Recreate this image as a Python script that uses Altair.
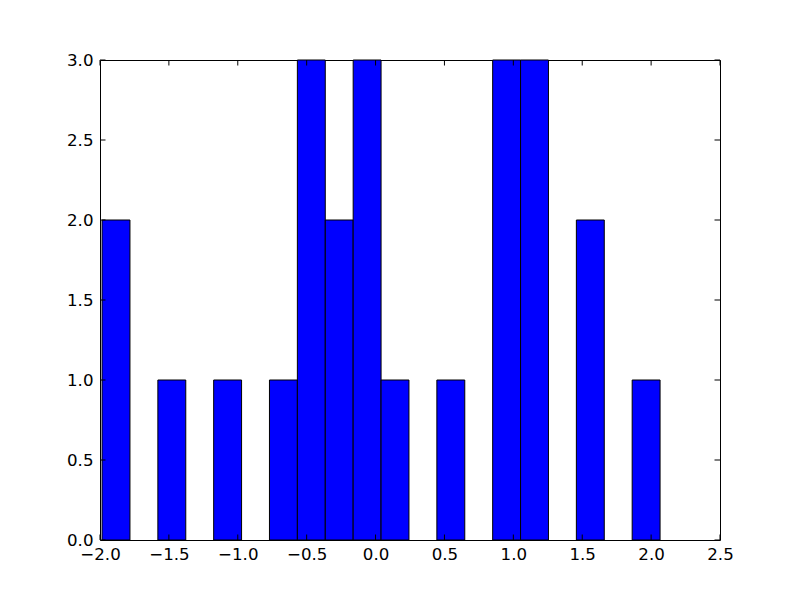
import altair as alt
import pandas as pd

bin_left = [-1.985, -1.7825, -1.58, -1.3775, -1.175, -0.9725, -0.77, -0.5675, -0.365, -0.1625,
            0.04, 0.2425, 0.445, 0.6475, 0.85, 1.0525, 1.255, 1.4575, 1.66, 1.8625]
bin_right = [-1.7825, -1.58, -1.3775, -1.175, -0.9725, -0.77, -0.5675, -0.365, -0.1625, 0.04,
             0.2425, 0.445, 0.6475, 0.85, 1.0525, 1.255, 1.4575, 1.66, 1.8625, 2.065]
counts = [2, 0, 1, 0, 1, 0, 1, 3, 2, 3, 1, 0, 1, 0, 3, 3, 0, 2, 0, 1]

x_ticks = [-2.0, -1.5, -1.0, -0.5, 0.0, 0.5, 1.0, 1.5, 2.0, 2.5]
y_ticks = [0.0, 0.5, 1.0, 1.5, 2.0, 2.5, 3.0]

W, H = 620, 480
TL = 5.5
FONT = "DejaVu Sans"

bars_df = pd.DataFrame({"a": bin_left, "b": bin_right, "n": counts})
xt_df = pd.DataFrame({"t": x_ticks})
yt_df = pd.DataFrame({"t": y_ticks})

xscale = alt.Scale(domain=[-2.0, 2.5], nice=False, zero=False)
yscale = alt.Scale(domain=[0, 3], nice=False, zero=False)

xaxis = alt.Axis(values=x_ticks, format=".1f", labelPadding=6, title=None)
yaxis = alt.Axis(values=y_ticks, format=".1f", labelPadding=7, title=None)

bars = alt.Chart(bars_df).transform_filter("datum.n > 0").mark_bar(
    color="#0000ff", stroke="black", strokeWidth=1
).encode(
    x=alt.X("a:Q", scale=xscale, axis=xaxis),
    x2="b:Q",
    y=alt.Y("n:Q", scale=yscale, axis=yaxis),
    y2=alt.datum(0),
)

xb = alt.Chart(xt_df).mark_rule(color="black", strokeWidth=1).encode(
    x=alt.X("t:Q", scale=xscale, axis=xaxis), y=alt.value(H), y2=alt.value(H - TL))
xt = alt.Chart(xt_df).mark_rule(color="black", strokeWidth=1).encode(
    x=alt.X("t:Q", scale=xscale, axis=xaxis), y=alt.value(0), y2=alt.value(TL))
yl = alt.Chart(yt_df).mark_rule(color="black", strokeWidth=1).encode(
    y=alt.Y("t:Q", scale=yscale, axis=yaxis), x=alt.value(0), x2=alt.value(TL))
yr = alt.Chart(yt_df).mark_rule(color="black", strokeWidth=1).encode(
    y=alt.Y("t:Q", scale=yscale, axis=yaxis), x=alt.value(W), x2=alt.value(W - TL))

chart = alt.layer(bars, xb, xt, yl, yr).properties(
    width=W, height=H,
    autosize=alt.AutoSizeParams(type="none"),
    padding={"left": 92, "top": 52, "right": 72, "bottom": 52},
    background="white",
).configure_view(
    stroke="black", strokeWidth=1
).configure_axis(
    ticks=False, domain=False, grid=False,
    labelFont=FONT, labelFontSize=16.67, labelColor="black",
    labelFlush=False, labelOverlap=False,
)

chart.save("out.html", embed_options={"renderer": "svg", "actions": False})
